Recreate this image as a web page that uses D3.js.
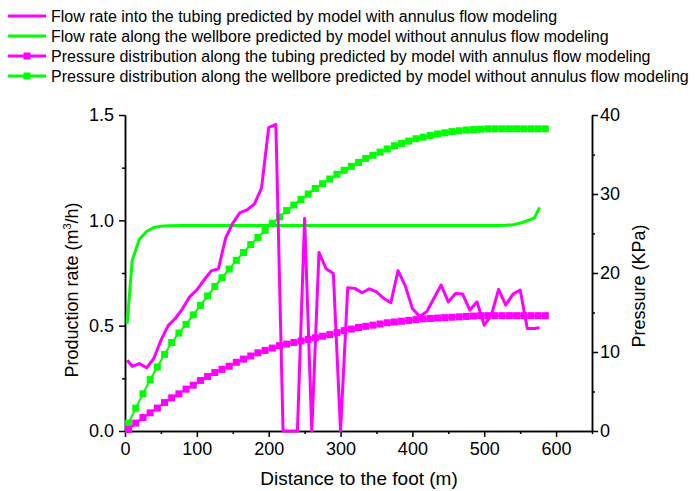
<!DOCTYPE html>
<html>
<head>
<meta charset="utf-8">
<script src="https://cdn.jsdelivr.net/npm/d3@7"></script>
<style>
  body { margin: 0; background: #fff; }
  svg { font-family: "Liberation Sans", Arial, sans-serif; }
</style>
</head>
<body>
<div id="chart"></div>
<script>
// flow rate into the tubing, with annulus flow modeling (m3/h)
const flowTubingX = [3, 10, 20, 30, 40, 50, 60, 70, 80, 90, 100, 110, 120, 130, 140, 150, 160, 170, 180, 190,
  200, 210, 220, 230, 240, 250, 260, 270, 280, 290, 300, 310, 320, 330, 340, 350, 360, 370, 380, 390,
  400, 410, 420, 430, 440, 450, 460, 470, 480, 490, 500, 510, 520, 530, 540, 550, 560, 570, 577];
const flowTubingY = [0.336, 0.307, 0.32, 0.30, 0.344, 0.43, 0.50, 0.534, 0.58, 0.637, 0.67, 0.717, 0.76, 0.77, 0.915, 0.987, 1.037, 1.05, 1.077, 1.153,
  1.44, 1.455, 0, 0, 0, 1.01, 0, 0.847, 0.77, 0.748, 0, 0.68, 0.677, 0.656, 0.675, 0.661, 0.63, 0.609, 0.761, 0.69,
  0.582, 0.545, 0.566, 0.63, 0.693, 0.613, 0.653, 0.65, 0.574, 0.613, 0.502, 0.55, 0.672, 0.598, 0.65, 0.669, 0.487, 0.487, 0.49];

// flow rate along the wellbore, without annulus flow modeling (m3/h)
const flowWellX = [3, 10, 20, 30, 40, 50, 60, 80, 100, 200, 300, 400, 500, 520, 530, 540, 550, 560, 570, 577];
const flowWellY = [0.51, 0.81, 0.91, 0.947, 0.966, 0.972, 0.974, 0.975, 0.975, 0.975, 0.975, 0.975, 0.975, 0.976, 0.977, 0.979, 0.987, 0.998, 1.012, 1.062];

// pressure distribution, sampled every 10 m from 5 m (KPa)
const pressureX = d3.range(5, 586, 10);
const pressureTubing = [0.2, 1.0, 1.7, 2.3, 2.9, 3.6, 4.2, 4.7, 5.3, 5.8, 6.4, 6.9, 7.4, 7.8, 8.2, 8.7, 9.1, 9.5, 9.9, 10.2,
  10.5, 10.8, 11.0, 11.2, 11.4, 11.6, 11.8, 12.0, 12.2, 12.45, 12.7, 12.9, 13.1, 13.25, 13.4, 13.55, 13.7, 13.8, 13.9, 14.0,
  14.1, 14.2, 14.25, 14.3, 14.35, 14.4, 14.45, 14.5, 14.55, 14.6, 14.6, 14.6, 14.6, 14.6, 14.6, 14.6, 14.6, 14.6, 14.6];
const pressureWell = [1.0, 2.9, 4.7, 6.5, 8.1, 9.7, 11.2, 12.4, 13.5, 14.7, 15.9, 17.1, 18.3, 19.4, 20.5, 21.6, 22.6, 23.6, 24.5, 25.4,
  26.3, 27.1, 27.9, 28.6, 29.3, 30.0, 30.7, 31.3, 31.9, 32.5, 33.0, 33.5, 34.0, 34.5, 34.9, 35.3, 35.7, 36.1, 36.4, 36.7,
  37.0, 37.2, 37.4, 37.6, 37.75, 37.9, 38.0, 38.1, 38.15, 38.2, 38.25, 38.25, 38.25, 38.25, 38.25, 38.25, 38.25, 38.25, 38.25];

const legendLabels = [
  "Flow rate into the tubing predicted by model with annulus flow modeling",
  "Flow rate along the wellbore predicted by model without annulus flow modeling",
  "Pressure distribution along the tubing predicted by model with annulus flow modeling",
  "Pressure distribution along the wellbore predicted by model without annulus flow modeling"
];

const xTicks = [0, 100, 200, 300, 400, 500, 600];
const xMinor = [50, 150, 250, 350, 450, 550, 650];
const yLeftTicks = [0, 0.5, 1.0, 1.5];
const yLeftMinor = [0.25, 0.75, 1.25];
const yRightTicks = [0, 10, 20, 30, 40];
const yRightMinor = [5, 15, 25, 35];

const MAGENTA = "#ff00ff", GREEN = "#00ff00";
const width = 697, height = 491;
const margin = { top: 115, right: 105, bottom: 60, left: 125 };
const innerW = width - margin.left - margin.right;
const innerH = height - margin.top - margin.bottom;

const svg = d3.select("#chart").append("svg")
  .attr("width", width)
  .attr("height", height);

const g = svg.append("g").attr("transform", `translate(${margin.left},${margin.top})`);

const x = d3.scaleLinear().domain([0, 650]).range([0, innerW]);
const yLeft = d3.scaleLinear().domain([0, 1.5]).range([innerH, 0]);
const yRight = d3.scaleLinear().domain([0, 40]).range([innerH, 0]);

// axes: major ticks labelled, minor ticks shorter
function styleAxis(sel) {
  sel.select(".domain").attr("stroke-width", 1.5);
  sel.selectAll(".tick line").attr("stroke-width", 1.5);
  sel.selectAll("text").attr("font-size", 18).attr("fill", "#000");
}

g.append("g")
  .attr("transform", `translate(0,${innerH})`)
  .call(d3.axisBottom(x).tickValues(xTicks).tickSize(6).tickSizeOuter(0).tickPadding(5))
  .call(styleAxis);
g.append("g")
  .attr("transform", `translate(0,${innerH})`)
  .call(d3.axisBottom(x).tickValues(xMinor).tickSize(3).tickSizeOuter(0).tickFormat(""))
  .call(styleAxis);

g.append("g")
  .call(d3.axisLeft(yLeft).tickValues(yLeftTicks).tickSize(6).tickSizeOuter(0).tickPadding(5).tickFormat(d3.format(".1f")))
  .call(styleAxis);
g.append("g")
  .call(d3.axisLeft(yLeft).tickValues(yLeftMinor).tickSize(3).tickSizeOuter(0).tickFormat(""))
  .call(styleAxis);

g.append("g")
  .attr("transform", `translate(${innerW},0)`)
  .call(d3.axisRight(yRight).tickValues(yRightTicks).tickSize(6).tickSizeOuter(0).tickPadding(2))
  .call(styleAxis);
g.append("g")
  .attr("transform", `translate(${innerW},0)`)
  .call(d3.axisRight(yRight).tickValues(yRightMinor).tickSize(3).tickSizeOuter(0).tickFormat(""))
  .call(styleAxis);

// axis titles
svg.append("text")
  .attr("x", 359)
  .attr("y", 485)
  .attr("text-anchor", "middle")
  .attr("font-size", 19)
  .text("Distance to the foot (m)");

const yTitle = svg.append("text")
  .attr("transform", "translate(78,290) rotate(-90)")
  .attr("text-anchor", "middle")
  .attr("font-size", 18);
yTitle.append("tspan").text("Production rate (m");
yTitle.append("tspan").attr("font-size", 11).attr("dy", -7).text("3");
yTitle.append("tspan").attr("dy", 7).text("/h)");

svg.append("text")
  .attr("transform", "translate(645,286) rotate(-90)")
  .attr("text-anchor", "middle")
  .attr("font-size", 18)
  .text("Pressure (KPa)");

// series
const line = d3.line();
const markSize = 7;

function drawPressure(values, color) {
  const pts = pressureX.map((d, i) => [x(d), yRight(values[i])]);
  g.append("path")
    .attr("d", line(pts))
    .attr("fill", "none")
    .attr("stroke", color)
    .attr("stroke-width", 2);
  g.append("g").selectAll("rect")
    .data(pts)
    .join("rect")
    .attr("x", d => d[0] - markSize / 2)
    .attr("y", d => d[1] - markSize / 2)
    .attr("width", markSize)
    .attr("height", markSize)
    .attr("fill", color);
}

function drawFlow(xs, ys, color) {
  g.append("path")
    .attr("d", line(xs.map((d, i) => [x(d), yLeft(ys[i])])))
    .attr("fill", "none")
    .attr("stroke", color)
    .attr("stroke-width", 3)
    .attr("stroke-linejoin", "round");
}

drawPressure(pressureWell, GREEN);
drawPressure(pressureTubing, MAGENTA);
drawFlow(flowWellX, flowWellY, GREEN);
drawFlow(flowTubingX, flowTubingY, MAGENTA);

// legend
const legendColors = [MAGENTA, GREEN, MAGENTA, GREEN];
const legend = svg.append("g");
legendLabels.forEach((label, i) => {
  const ly = 16 + i * 20;
  legend.append("line")
    .attr("x1", 8).attr("x2", 46)
    .attr("y1", ly).attr("y2", ly)
    .attr("stroke", legendColors[i])
    .attr("stroke-width", 3);
  if (i >= 2) {
    legend.append("rect")
      .attr("x", 27 - markSize / 2).attr("y", ly - markSize / 2)
      .attr("width", markSize).attr("height", markSize)
      .attr("fill", legendColors[i]);
  }
  legend.append("text")
    .attr("x", 51)
    .attr("y", ly + 6)
    .attr("font-size", 16)
    .text(label);
});
</script>
</body>
</html>
